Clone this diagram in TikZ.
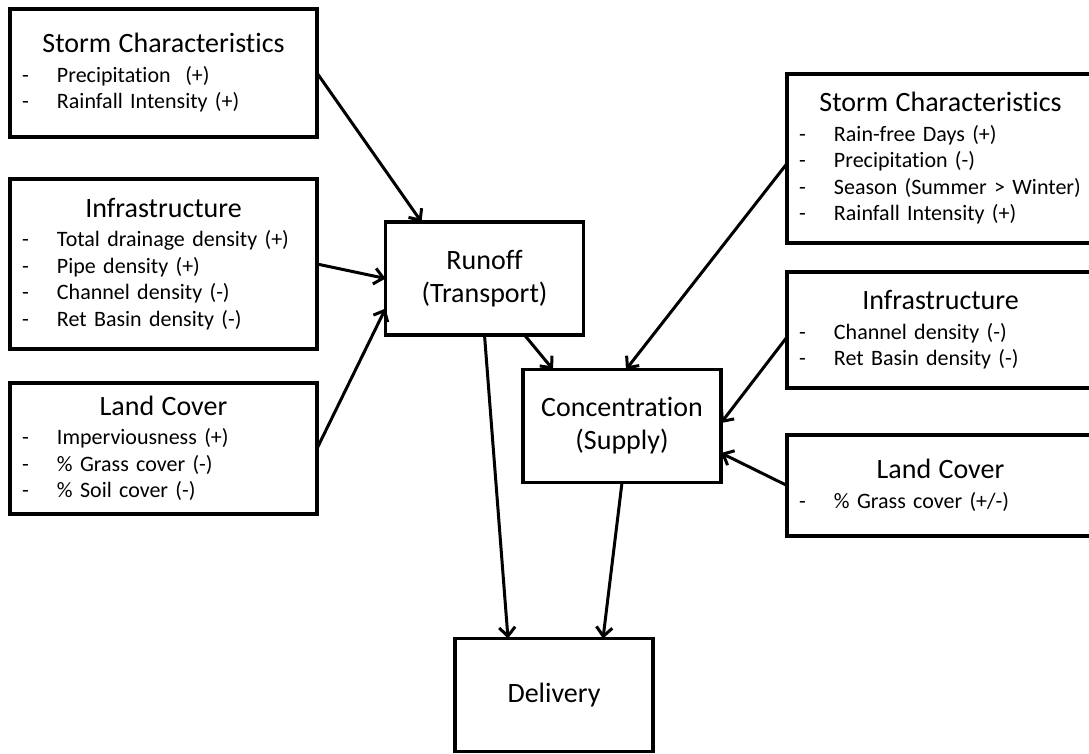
\documentclass[tikz,border=0pt]{standalone}
\usepackage{fontspec}
\setmainfont{Carlito}[Ligatures=NoCommon, WordSpace=0.65]
\usetikzlibrary{positioning,arrows.meta}

\newcommand{\heading}[1]{{\centering\fontsize{28}{34}\selectfont #1\par}\vspace{3pt}}
\newcommand{\effect}[1]{\par\noindent\makebox[35pt][l]{-}#1}

\begin{document}
\begin{tikzpicture}[x=1pt, y=-1pt, >={Straight Barb[length=9pt,width=16pt]},
		factor/.style={draw, line width=3.5pt, outer sep=0pt, text width=283pt, inner xsep=12pt, font=\fontsize{22}{26.5}\selectfont},
		stage/.style={draw, line width=3.5pt, outer sep=0pt, minimum width=198pt, minimum height=113pt, align=center, font=\fontsize{28}{33}\selectfont}]
		\useasboundingbox (0,0) rectangle (1089,753);
		\clip (0,0) rectangle (1089,753);
		\begin{scope}[node distance=40pt and 40pt]
			\node (runoff) [stage] at (484.5,278.5) {Runoff\\(Transport)};
			\node (conc) [stage] at (622,426) {Concentration\\(Supply)};
			\node (deliv) [stage] at (554,695) {Delivery};

			\node (lstorm) [factor, minimum height=128pt] at (163.5,73) {\heading{Storm Characteristics}\effect{Precipitation~ (+)}\effect{Rainfall Intensity (+)}};
			\node (linfra) [factor, minimum height=170pt, below=42pt of lstorm] {\heading{Infrastructure}\effect{Total drainage density (+)}\effect{Pipe density (+)}\effect{Channel density (-)}\effect{Ret Basin density (-)}};
			\node (lland) [factor, minimum height=131pt, below=34pt of linfra] {\heading{Land Cover}\effect{Imperviousness (+)}\effect{\% Grass cover (-)}\effect{\% Soil cover (-)}};

			\node (rstorm) [factor, minimum height=169pt] at (940.5,158.5) {\heading{Storm Characteristics}\effect{Rain-free Days (+)}\effect{Precipitation (-)}\effect{Season (Summer > Winter)}\effect{Rainfall Intensity (+)}};
			\node (rinfra) [factor, minimum height=116pt, below=29pt of rstorm] {\heading{Infrastructure}\effect{Channel density (-)}\effect{Ret Basin density (-)}};
			\node (rland) [factor, minimum height=101pt, below=47pt of rinfra] {\heading{Land Cover}\effect{\% Grass cover (+/-)}};

			\draw [line width=3pt,->] (lstorm.east) -- ([xshift=36pt]runoff.north west);
			\draw [line width=3pt,->] (linfra.east) -- (runoff.west);
			\draw [line width=3pt,->] (lland.east) -- ([yshift=-30pt]runoff.west);
			\draw [line width=3pt,->] ([xshift=40pt]runoff.south) -- ([xshift=30pt]conc.north west);
			\draw [line width=3pt,->] (runoff.south) -- ([xshift=53pt]deliv.north west);
			\draw [line width=3pt,->] (conc.south) -- ([xshift=49pt]deliv.north);
			\draw [line width=3pt,->] ([yshift=-5pt]rstorm.west) -- ([xshift=4pt]conc.north);
			\draw [line width=3pt,->] ([yshift=-7pt]rinfra.west) -- ([yshift=3pt]conc.east);
			\draw [line width=3pt,->] (rland.west) -- ([yshift=-27pt]conc.east);
		\end{scope}
	\end{tikzpicture}
\end{document}
